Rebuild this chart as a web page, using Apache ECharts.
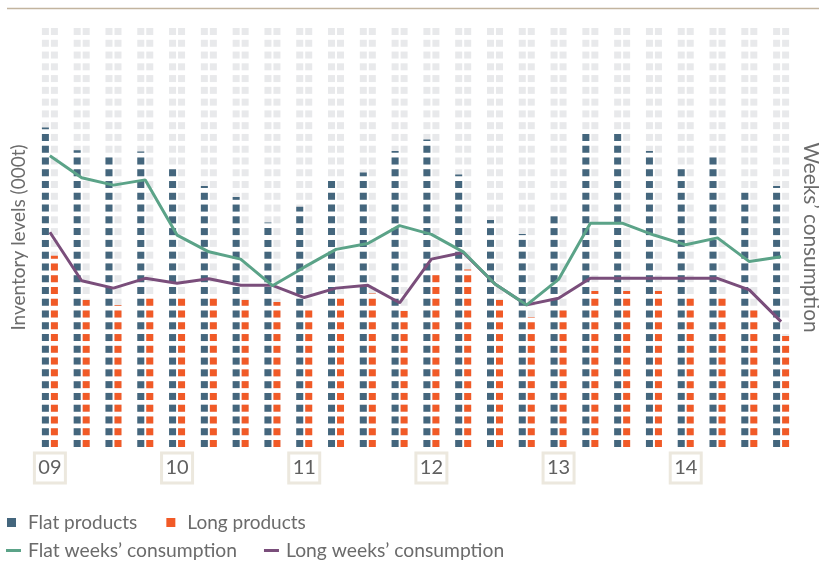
<!DOCTYPE html>
<html>
<head>
<meta charset="utf-8">
<title>Steel inventories</title>
<script src="https://cdn.jsdelivr.net/npm/echarts@6/dist/echarts.min.js"></script>
<style>
  html, body { margin: 0; padding: 0; background: #ffffff; }
  #chart { width: 819px; height: 563px; }
</style>
</head>
<body>
<div id="chart"></div>
<script>
// Quarterly categories, 2009 Q1 to 2014 Q4
const quarters = [
  '09 Q1', '09 Q2', '09 Q3', '09 Q4',
  '10 Q1', '10 Q2', '10 Q3', '10 Q4',
  '11 Q1', '11 Q2', '11 Q3', '11 Q4',
  '12 Q1', '12 Q2', '12 Q3', '12 Q4',
  '13 Q1', '13 Q2', '13 Q3', '13 Q4',
  '14 Q1', '14 Q2', '14 Q3', '14 Q4'
];
// Year tick labels, one per four quarters
const yearLabels = ['09', '10', '11', '12', '13', '14'];

// Inventory levels (000t)
const flatProducts = [
  2745, 2549, 2509, 2539, 2406, 2243, 2148, 1929,
  2065, 2307, 2359, 2543, 2642, 2341, 1950, 1830,
  2002, 2711, 2711, 2543, 2406, 2509, 2208, 2243
];
const longProducts = [
  1644, 1263, 1220, 1293, 1293, 1293, 1263, 1246,
  1194, 1293, 1319, 1169, 1495, 1525, 1263, 1117,
  1194, 1340, 1340, 1340, 1293, 1293, 1194, 954
];

// Weeks' consumption held in stock
const flatWeeks = [
  8.34, 7.71, 7.50, 7.65, 6.07, 5.59, 5.38, 4.62,
  5.15, 5.66, 5.83, 6.34, 6.09, 5.59, 4.67, 4.07,
  4.80, 6.41, 6.41, 6.07, 5.79, 5.99, 5.31, 5.45
];
const longWeeks = [
  6.15, 4.76, 4.55, 4.83, 4.69, 4.82, 4.63, 4.63,
  4.28, 4.55, 4.63, 4.13, 5.38, 5.57, 4.67, 4.07,
  4.26, 4.83, 4.83, 4.83, 4.83, 4.83, 4.50, 3.59
];

// Axis ranges
const inventoryMax = 3600;
const weeksMax = 12;

const FONT = 'Lato, "Open Sans", sans-serif';
const TEXT_GREY = '#6b6b6b';
const COLOR_FLAT = '#44667d';
const COLOR_LONG = '#f15a27';
const COLOR_TRACK = '#e8e9eb';
const COLOR_FLAT_WEEKS = '#5ba388';
const COLOR_LONG_WEEKS = '#7a4e7b';

// Shared block styling for the segmented columns
const blockStyle = {
  type: 'pictorialBar',
  symbol: 'rect',
  symbolSize: [7, 7],
  symbolRepeat: true,
  symbolMargin: 2.47,
  symbolBoundingData: inventoryMax,
  symbolClip: true,
  barWidth: 7,
  barGap: '28.6%',
  silent: true
};

const trackData = quarters.map(() => inventoryMax);

const chart = echarts.init(document.getElementById('chart'), null, { renderer: 'canvas' });

chart.setOption({
  animation: false,
  backgroundColor: '#ffffff',
  textStyle: { fontFamily: FONT },
  graphic: [{
    type: 'line',
    shape: { x1: 7, y1: 8.5, x2: 819, y2: 8.5 },
    style: { stroke: '#c2b49f', lineWidth: 1.5 },
    silent: true
  }],
  grid: { left: 34, right: 22, top: 28, bottom: 116, outerBoundsMode: 'none', containLabel: false },
  legend: [
    {
      data: ['Flat products', 'Long products'],
      left: 2, top: 508,
      icon: 'rect',
      itemWidth: 9, itemHeight: 9, itemGap: 29,
      selectedMode: false,
      textStyle: { fontFamily: FONT, fontSize: 19, color: TEXT_GREY, padding: [0, 0, 0, 7] }
    },
    {
      data: [
        { name: 'Flat weeks’ consumption', icon: 'rect' },
        { name: 'Long weeks’ consumption', icon: 'rect' }
      ],
      left: 1, top: 536,
      itemWidth: 15, itemHeight: 3, itemGap: 27,
      selectedMode: false,
      textStyle: { fontFamily: FONT, fontSize: 19.3, color: TEXT_GREY, padding: [0, 0, 0, 2] }
    }
  ],
  xAxis: [
    {
      type: 'category',
      data: quarters,
      axisLine: { show: false },
      axisTick: { show: false },
      axisLabel: {
        interval: 3,
        margin: 6,
        formatter: (value, index) => yearLabels[Math.floor(index / 4)],
        fontFamily: FONT,
        fontSize: 20,
        color: '#606060',
        width: 31,
        height: 30,
        lineHeight: 30,
        align: 'center',
        borderColor: '#ece8de',
        borderWidth: 3
      }
    },
    {
      type: 'category',
      data: quarters,
      show: false
    }
  ],
  yAxis: [
    {
      type: 'value',
      min: 0,
      max: inventoryMax,
      name: 'Inventory levels (000t)',
      nameLocation: 'middle',
      nameRotate: 90,
      nameGap: 6,
      nameTextStyle: { fontFamily: FONT, fontSize: 19, color: TEXT_GREY },
      axisLine: { show: false },
      axisTick: { show: false },
      axisLabel: { show: false },
      splitLine: { show: false }
    },
    {
      type: 'value',
      min: 0,
      max: weeksMax,
      position: 'right',
      name: 'Weeks’ consumption',
      nameLocation: 'middle',
      nameRotate: -90,
      nameGap: 3,
      nameTextStyle: { fontFamily: FONT, fontSize: 20.8, color: TEXT_GREY },
      axisLine: { show: false },
      axisTick: { show: false },
      axisLabel: { show: false },
      splitLine: { show: false }
    }
  ],
  series: [
    // light grey tracks behind both columns
    Object.assign({}, blockStyle, {
      name: 'track-flat', xAxisIndex: 1, yAxisIndex: 0, z: 1,
      itemStyle: { color: COLOR_TRACK }, data: trackData
    }),
    Object.assign({}, blockStyle, {
      name: 'track-long', xAxisIndex: 1, yAxisIndex: 0, z: 1,
      itemStyle: { color: COLOR_TRACK }, data: trackData
    }),
    Object.assign({}, blockStyle, {
      name: 'Flat products', xAxisIndex: 0, yAxisIndex: 0, z: 2,
      itemStyle: { color: COLOR_FLAT }, data: flatProducts
    }),
    Object.assign({}, blockStyle, {
      name: 'Long products', xAxisIndex: 0, yAxisIndex: 0, z: 2,
      itemStyle: { color: COLOR_LONG }, data: longProducts
    }),
    {
      name: 'Long weeks’ consumption',
      type: 'line',
      xAxisIndex: 0, yAxisIndex: 1, z: 3,
      symbol: 'none',
      color: COLOR_LONG_WEEKS,
      itemStyle: { color: COLOR_LONG_WEEKS },
      lineStyle: { color: COLOR_LONG_WEEKS, width: 3 },
      data: longWeeks
    },
    {
      name: 'Flat weeks’ consumption',
      type: 'line',
      xAxisIndex: 0, yAxisIndex: 1, z: 4,
      symbol: 'none',
      color: COLOR_FLAT_WEEKS,
      itemStyle: { color: COLOR_FLAT_WEEKS },
      lineStyle: { color: COLOR_FLAT_WEEKS, width: 3 },
      data: flatWeeks
    }
  ]
});
</script>
</body>
</html>
